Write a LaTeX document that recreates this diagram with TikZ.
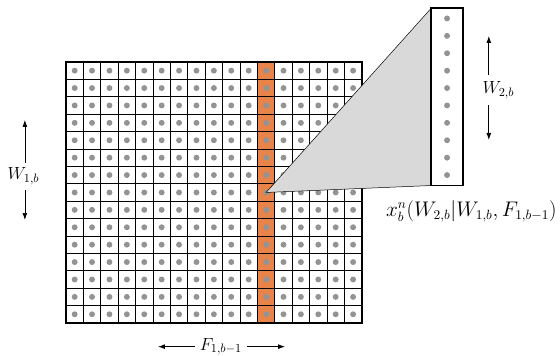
\documentclass[tikz,border=0pt]{standalone}
\usetikzlibrary{arrows.meta,positioning}
\definecolor{cellorange}{HTML}{E8834A}
\definecolor{dotgray}{HTML}{939393}
\definecolor{conegray}{HTML}{D9D9D9}
\tikzset{
	cell/.style={draw=black,line width=0.6pt},
	frame/.style={draw=black,line width=1.5pt},
	pt/.style={fill=dotgray},
	arr/.style={-{Latex[length=2mm,width=1.4mm]},semithick},
	lbl/.style={font=\Large,inner sep=0pt}
}
\begin{document}
\begin{tikzpicture}[x=0.5cm,y=-0.5cm]
	\useasboundingbox (-3.79,-3.56) rectangle (28.39,16.84);
	% grid with highlighted column
	\fill[cellorange] (11,0) rectangle (12,15);
	\foreach \i in {1,...,16}
		\draw[cell] (\i,0) -- (\i,15);
	\foreach \j in {1,...,14}
		\draw[cell] (0,\j) -- (17,\j);
	\foreach \i in {0,...,16}
		\foreach \j in {0,...,14}
			\fill[pt] (\i+0.5,\j+0.5) circle[radius=0.085cm];
	\draw[frame] (0,0) rectangle (17,15);
	% zoomed column
	\coordinate (apex) at (11.5,7.5);
	\coordinate (zt) at (21,-3.1);
	\coordinate (zb) at (21,7.1);
	\coordinate (zbr) at (22.8,7.1);
	\filldraw[fill=conegray,draw=black,thin] (apex) -- (zt) -- (zb) -- cycle;
	\draw[frame,fill=white] (zt) rectangle (zbr);
	\foreach \j in {-2.5,-1.5,...,6.5}
		\fill[pt] (21.9,\j) circle[radius=0.085cm];
	% labels
	\node[lbl,minimum height=0.86cm] (w2) at (24.85,1.61) {$W_{2,b}$};
	\coordinate (w2top) at (24.3,-1.49);
	\coordinate (w2bot) at (24.3,4.48);
	\draw[arr] (w2.north -| w2top) -- (w2top);
	\draw[arr] (w2.south -| w2bot) -- (w2bot);
	\node[lbl,minimum height=0.78cm] (w1) at (-2.44,6.58) {$W_{1,b}$};
	\coordinate (w1top) at (-2.36,3.33);
	\coordinate (w1bot) at (-2.36,9.08);
	\draw[arr] (w1.north -| w1top) -- (w1top);
	\draw[arr] (w1.south -| w1bot) -- (w1bot);
	\node[lbl,minimum width=1.49cm] (f1) at (8.9,16.36) {$F_{1,b-1}$};
	\coordinate (f1l) at (5.29,16.36);
	\coordinate (f1r) at (12.59,16.36);
	\draw[arr] (f1.west) -- (f1l);
	\draw[arr] (f1.east) -- (f1r);
	\node[lbl,font=\fontsize{16}{19}\selectfont] (xb) at (23.3,8.6) {$x_b^n\big(W_{2,b}|W_{1,b},F_{1,b-1}\big)$};
\end{tikzpicture}
\end{document}
